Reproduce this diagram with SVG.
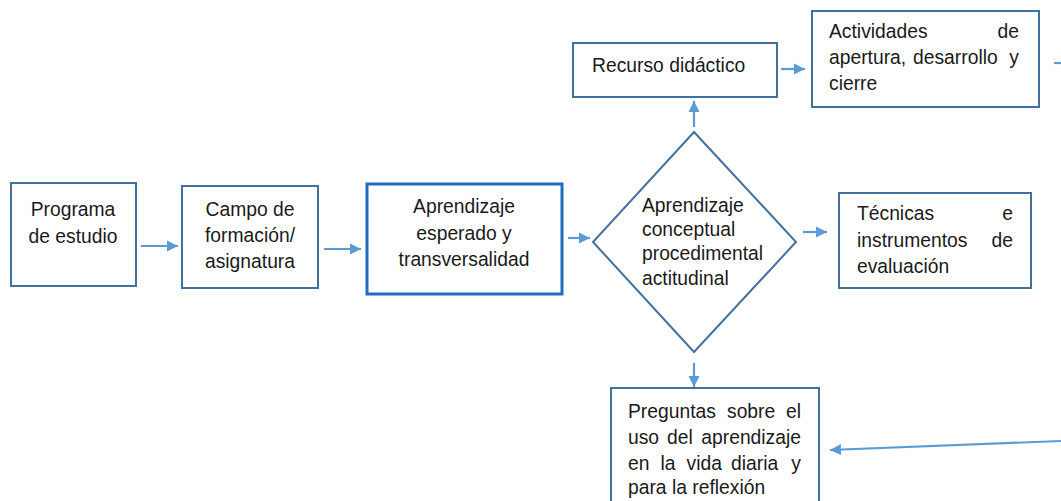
<svg xmlns="http://www.w3.org/2000/svg" width="1061" height="501" viewBox="0 0 1061 501">
<style>
.box{fill:#fff;stroke:#41719C;stroke-width:2}
.box3{fill:#fff;stroke:#1F6DBF;stroke-width:3}
.t{font-family:"Liberation Sans",Arial,sans-serif;font-size:19.3px;fill:#1a1a1a}
.c{text-anchor:middle}
.e{text-anchor:end}
.arr{stroke:#5B9BD5;stroke-width:2.2;fill:none;marker-end:url(#ah)}
</style>
<defs>
<marker id="ah" markerUnits="userSpaceOnUse" markerWidth="12" markerHeight="12" refX="11" refY="6" orient="auto">
<path d="M0,0.5 L11,6 L0,11.5 z" fill="#5B9BD5"/>
</marker>
</defs>
<rect width="1061" height="501" fill="#fff"/>
<g id="connectors">
<line class="arr" x1="141" y1="246" x2="178" y2="246"/>
<line class="arr" x1="324" y1="249" x2="361" y2="249"/>
<line class="arr" x1="568" y1="238" x2="590" y2="238"/>
<line class="arr" x1="694" y1="127" x2="694" y2="101"/>
<line class="arr" x1="781" y1="69" x2="805" y2="69"/>
<line class="arr" x1="803" y1="232" x2="827" y2="232"/>
<line class="arr" x1="694" y1="363" x2="694" y2="387"/>
<line class="arr" x1="1061" y1="441" x2="830" y2="450"/>
<line x1="1054" y1="63" x2="1061" y2="63" stroke="#5B9BD5" stroke-width="2.2"/>
</g>
<g id="programa">
<rect class="box" x="11" y="183" width="125" height="103"/>
<text class="t c" x="73" y="216">Programa</text>
<text class="t c" x="73" y="243">de estudio</text>
</g>
<g id="campo">
<rect class="box" x="182" y="186" width="136" height="102"/>
<text class="t c" x="250" y="216">Campo de</text>
<text class="t c" x="250" y="242">formación/</text>
<text class="t c" x="250" y="268">asignatura</text>
</g>
<g id="aprendizaje-esperado">
<rect class="box3" x="367" y="184" width="195" height="110"/>
<text class="t c" x="464" y="213">Aprendizaje</text>
<text class="t c" x="464" y="239.5">esperado y</text>
<text class="t c" x="464" y="266">transversalidad</text>
</g>
<g id="aprendizaje-tipos">
<polygon class="box" points="694,132 796,242 694,352 593,242"/>
<text class="t" x="642" y="211.5">Aprendizaje</text>
<text class="t" x="642" y="235.5">conceptual</text>
<text class="t" x="642" y="260">procedimental</text>
<text class="t" x="642" y="284.5">actitudinal</text>
</g>
<g id="recurso">
<rect class="box" x="573" y="43" width="204" height="54"/>
<text class="t" x="592" y="72">Recurso didáctico</text>
</g>
<g id="actividades">
<rect class="box" x="812" y="11" width="227" height="96"/>
<text class="t" x="829" y="38">Actividades</text>
<text class="t e" x="1019" y="38">de</text>
<text class="t" x="829" y="64">apertura,</text>
<text class="t" x="913" y="64">desarrollo</text>
<text class="t e" x="1019" y="64">y</text>
<text class="t" x="829" y="90">cierre</text>
</g>
<g id="tecnicas">
<rect class="box" x="839" y="193" width="192" height="95"/>
<text class="t" x="857" y="220">Técnicas</text>
<text class="t e" x="1013" y="220">e</text>
<text class="t" x="857" y="247">instrumentos</text>
<text class="t e" x="1013" y="247">de</text>
<text class="t" x="857" y="273">evaluación</text>
</g>
<g id="preguntas">
<rect class="box" x="611" y="388" width="208" height="120"/>
<text class="t" x="628" y="418">Preguntas</text>
<text class="t" x="727" y="418">sobre</text>
<text class="t e" x="801" y="418">el</text>
<text class="t" x="628" y="443.5">uso</text>
<text class="t" x="667" y="443.5">del</text>
<text class="t e" x="801" y="443.5">aprendizaje</text>
<text class="t" x="628" y="469.5">en</text>
<text class="t" x="660.5" y="469.5">la</text>
<text class="t" x="686.5" y="469.5">vida</text>
<text class="t" x="731" y="469.5">diaria</text>
<text class="t e" x="801" y="469.5">y</text>
<text class="t" x="628" y="494">para la reflexión</text>
</g>
</svg>
